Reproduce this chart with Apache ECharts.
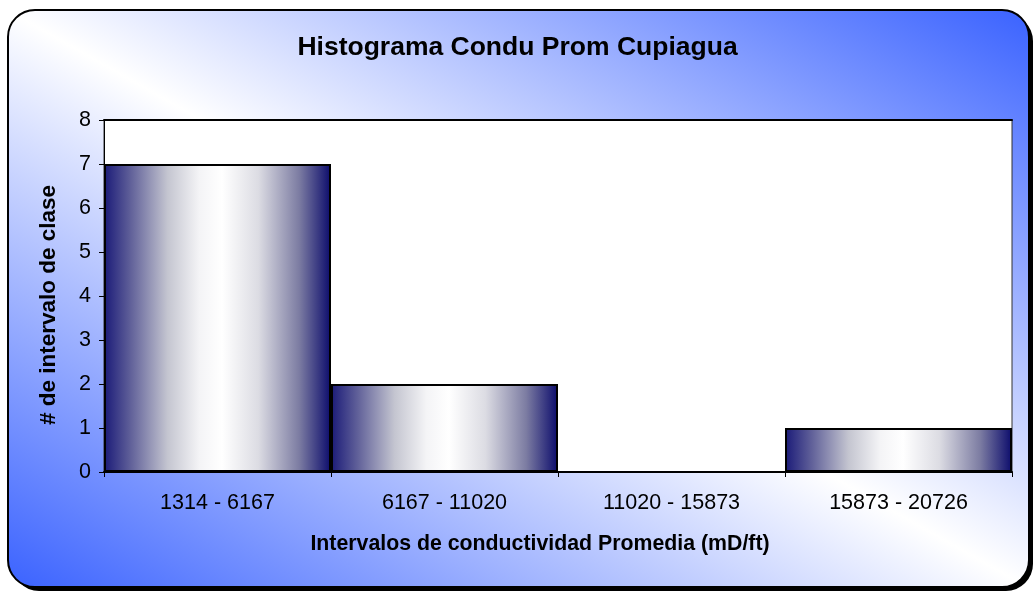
<!DOCTYPE html>
<html>
<head>
<meta charset="utf-8">
<title>Histograma Condu Prom Cupiagua</title>
<script src="https://cdn.jsdelivr.net/npm/echarts@6/dist/echarts.min.js"></script>
<style>
  html, body { margin: 0; padding: 0; background: #ffffff; }
  #chart { width: 1035px; height: 592px; }
</style>
</head>
<body>
<div id="chart"></div>
<script>
// Class intervals of average conductivity (mD/ft) and their frequencies
const categories = ['1314 - 6167', '6167 - 11020', '11020 - 15873', '15873 - 20726'];
const frequencies = [7, 2, 0, 1];
const yTicks = { min: 0, max: 8, interval: 1 };

const titleText = 'Histograma Condu Prom Cupiagua';
const xAxisName = 'Intervalos de conductividad Promedia (mD/ft)';
const yAxisName = '# de intervalo de clase';

const FONT = '"Liberation Sans", Arial, sans-serif';

// cylinder-like shading across each bar
const barFill = new echarts.graphic.LinearGradient(0, 0, 1, 0, [
  { offset: 0.00, color: '#1a1a78' },
  { offset: 0.12, color: '#62629a' },
  { offset: 0.28, color: '#c4c5d0' },
  { offset: 0.42, color: '#f4f4f6' },
  { offset: 0.52, color: '#ffffff' },
  { offset: 0.68, color: '#dcdce3' },
  { offset: 0.86, color: '#7c7ca2' },
  { offset: 1.00, color: '#0c0c6c' }
]);

// frame background: white along the main diagonal, blue toward the other corners
const frameFill = new echarts.graphic.LinearGradient(767, -139, 271, 738, [
  { offset: 0.00, color: '#3a62ff' },
  { offset: 0.50, color: '#ffffff' },
  { offset: 1.00, color: '#3a62ff' }
], true);

const chart = echarts.init(document.getElementById('chart'), null, { renderer: 'canvas' });

chart.setOption({
  animation: false,
  backgroundColor: '#ffffff',
  graphic: [{
    // drop shadow of the frame
    type: 'rect',
    z: -11,
    shape: { x: 12, y: 14, width: 1021, height: 577, r: 27 },
    style: { fill: '#000000' }
  }, {
    type: 'rect',
    z: -10,
    shape: { x: 8, y: 10, width: 1021, height: 577, r: 27 },
    style: { fill: frameFill, stroke: '#000000', lineWidth: 2 }
  }],
  title: {
    text: titleText,
    left: 'center',
    top: 29,
    textStyle: { fontFamily: FONT, fontSize: 26.5, fontWeight: 'bold', color: '#000' }
  },
  grid: {
    left: 104, top: 120, right: 23, bottom: 120,
    show: true,
    backgroundColor: '#ffffff',
    borderColor: '#333333',
    borderWidth: 1
  },
  xAxis: [{
    type: 'category',
    data: categories,
    boundaryGap: true,
    axisLine: { lineStyle: { color: '#000', width: 2 } },
    axisTick: { show: true, inside: false, length: 5, lineStyle: { color: '#000', width: 1 } },
    axisLabel: { margin: 20, color: '#000', fontFamily: FONT, fontSize: 21.5 },
    splitLine: { show: false },
    name: xAxisName,
    nameLocation: 'middle',
    nameGap: 62,
    nameTextStyle: { fontFamily: FONT, fontSize: 21.3, fontWeight: 'bold', color: '#000', padding: [0, 36, 0, 0] }
  }, {
    type: 'category',
    data: categories,
    position: 'top',
    axisLine: { lineStyle: { color: '#000', width: 2 } },
    axisTick: { show: false },
    axisLabel: { show: false }
  }],
  yAxis: {
    type: 'value',
    min: yTicks.min,
    max: yTicks.max,
    interval: yTicks.interval,
    axisLine: { show: true, lineStyle: { color: '#000', width: 1 } },
    axisTick: { show: true, inside: false, length: 5, lineStyle: { color: '#000', width: 1 } },
    axisLabel: { margin: 13, color: '#000', fontFamily: FONT, fontSize: 21.5 },
    splitLine: { show: false },
    name: yAxisName,
    nameLocation: 'middle',
    nameRotate: 90,
    nameGap: 44,
    nameTextStyle: { fontFamily: FONT, fontSize: 22.5, fontWeight: 'bold', color: '#000', padding: [0, 18, 0, 0] }
  },
  series: [{
    type: 'bar',
    data: frequencies,
    barCategoryGap: '0%',
    itemStyle: { color: barFill, borderColor: '#000', borderWidth: 2 }
  }]
});
</script>
</body>
</html>
